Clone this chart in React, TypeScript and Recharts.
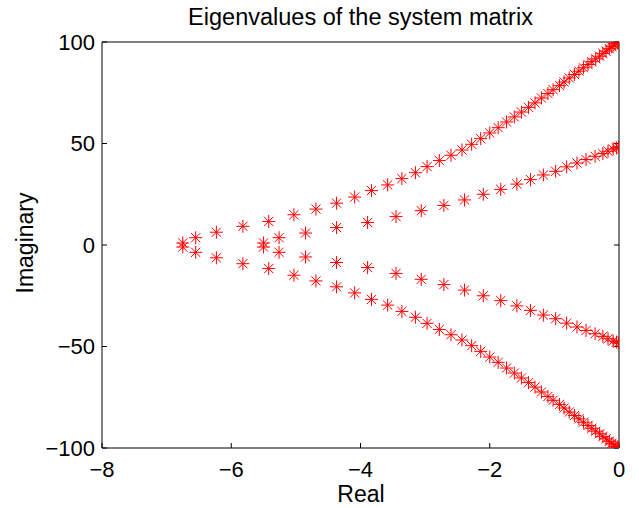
import { ScatterChart, Scatter, XAxis, YAxis } from 'recharts';

// eigenvalues (upper half-plane); lower half are the conjugates
const outerRe = [-6.75, -6.55, -6.23, -5.82, -5.42, -5.03, -4.69, -4.37, -4.09, -3.83, -3.58, -3.36, -3.15, -2.97, -2.78, -2.6, -2.43, -2.28, -2.14, -2.0, -1.87, -1.74, -1.62, -1.51, -1.4, -1.3, -1.2, -1.1, -1.02, -0.92, -0.85, -0.77, -0.69, -0.62, -0.55, -0.48, -0.42, -0.36, -0.3, -0.25, -0.2, -0.15, -0.11, -0.08, -0.05, -0.02, -0.01];
const outerIm = [1.0, 3.6, 6.3, 9.2, 11.6, 14.9, 17.7, 20.6, 23.6, 26.8, 29.6, 32.7, 35.6, 38.6, 41.6, 44.2, 46.8, 49.6, 52.4, 55.2, 57.8, 60.6, 63.1, 65.5, 67.8, 70.0, 72.4, 74.6, 76.5, 78.5, 80.3, 82.3, 84.0, 85.6, 87.3, 88.9, 90.3, 91.7, 93.0, 94.4, 95.5, 96.7, 97.7, 98.5, 99.2, 99.6, 99.9];

const innerRe = [-5.5, -5.26, -4.85, -4.37, -3.89, -3.45, -3.06, -2.71, -2.39, -2.1, -1.83, -1.58, -1.37, -1.17, -0.98, -0.81, -0.65, -0.51, -0.37, -0.25, -0.17, -0.09, -0.04, -0.01];
const innerIm = [1.0, 3.6, 5.9, 8.6, 11.1, 14.0, 16.9, 19.5, 22.2, 25.0, 27.4, 30.0, 32.2, 34.5, 36.3, 38.5, 40.4, 42.1, 43.7, 45.0, 46.2, 47.3, 47.8, 48.3];

const xTicks = [-8, -6, -4, -2, 0];
const yTicks = [-100, -50, 0, 50, 100];

const toPoints = (re: number[], im: number[]) =>
  re.flatMap((r, i) => [
    { re: r, im: im[i] },
    { re: r, im: -im[i] },
  ]);

const points = [...toPoints(outerRe, outerIm), ...toPoints(innerRe, innerIm)];

const FONT = '"Liberation Sans", Arial, Helvetica, sans-serif';
const fmt = (v: number) => (v < 0 ? '\u2212' + Math.abs(v) : String(v));

const Asterisk = (props: any) => {
  const { cx, cy } = props;
  if (cx == null || cy == null) return <g />;
  const r = 6.5;
  const d = r * 0.7071;
  return (
    <g stroke="#ff0000" strokeWidth={1}>
      <line x1={cx - r} y1={cy} x2={cx + r} y2={cy} />
      <line x1={cx} y1={cy - r} x2={cx} y2={cy + r} />
      <line x1={cx - d} y1={cy - d} x2={cx + d} y2={cy + d} />
      <line x1={cx - d} y1={cy + d} x2={cx + d} y2={cy - d} />
    </g>
  );
};

const blank = () => <g />;

export default function App() {
  const axisStyle = { stroke: '#000', strokeWidth: 1 };
  return (
    <div style={{ position: 'fixed', left: 0, top: 0, width: 639, height: 508, background: '#fff', fontFamily: FONT }}>
      <ScatterChart width={639} height={508} margin={{ top: 41, right: 19, bottom: 0, left: 42 }}>
        <XAxis
          type="number"
          dataKey="re"
          domain={[-8, 0]}
          ticks={xTicks}
          tickFormatter={fmt}
          height={60}
          tickSize={-5}
          tickMargin={18}
          axisLine={axisStyle}
          tickLine={axisStyle}
          tick={{ fill: '#000', fontSize: 22, fontFamily: FONT }}
          allowDataOverflow
        />
        <XAxis
          xAxisId="top"
          orientation="top"
          type="number"
          domain={[-8, 0]}
          ticks={xTicks}
          height={1}
          tickSize={-5}
          axisLine={axisStyle}
          tickLine={axisStyle}
          tick={blank}
          allowDataOverflow
        />
        <YAxis
          type="number"
          dataKey="im"
          domain={[-100, 100]}
          ticks={yTicks}
          tickFormatter={fmt}
          width={60}
          tickSize={-5}
          tickMargin={12}
          axisLine={axisStyle}
          tickLine={axisStyle}
          tick={{ fill: '#000', fontSize: 22, fontFamily: FONT }}
          allowDataOverflow
        />
        <YAxis
          yAxisId="right"
          orientation="right"
          type="number"
          domain={[-100, 100]}
          ticks={yTicks}
          width={1}
          tickSize={-5}
          axisLine={axisStyle}
          tickLine={axisStyle}
          tick={blank}
          allowDataOverflow
        />
        <Scatter data={points} shape={Asterisk} fill="#ff0000" isAnimationActive={false} />
      </ScatterChart>
      <svg width={639} height={508} style={{ position: 'absolute', left: 0, top: 0, pointerEvents: 'none' }}>
        <text x={360.5} y={25} textAnchor="middle" fontSize={23.5} fontFamily={FONT} fill="#000">
          Eigenvalues of the system matrix
        </text>
        <text x={361} y={502} textAnchor="middle" fontSize={23} fontFamily={FONT} fill="#000">
          Real
        </text>
        <text
          x={0}
          y={0}
          transform="translate(33 243) rotate(-90)"
          textAnchor="middle"
          fontSize={23}
          fontFamily={FONT}
          fill="#000"
        >
          Imaginary
        </text>
      </svg>
    </div>
  );
}
